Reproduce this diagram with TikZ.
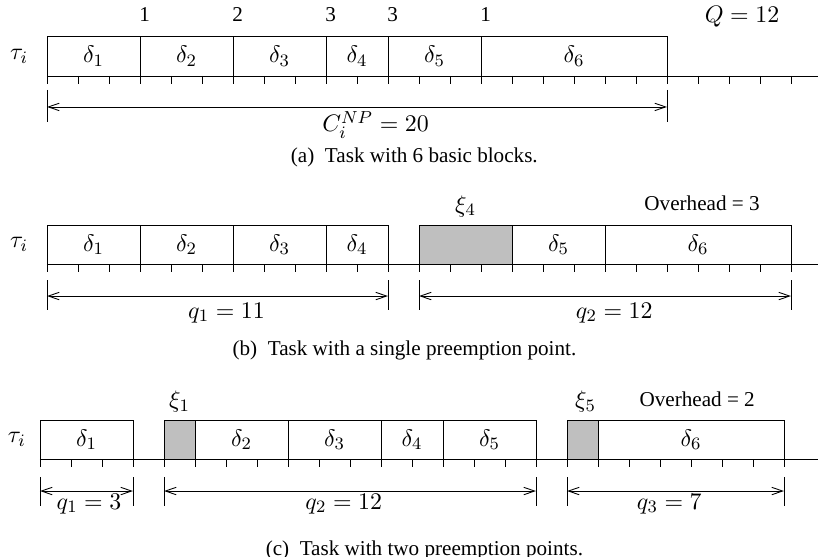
\documentclass[tikz,border=0pt]{standalone}
\usepackage{fontspec}
\setmainfont{Liberation Serif}
\usetikzlibrary{positioning,arrows.meta}

\begin{document}
\begin{tikzpicture}[x=0.5cm,y=0.5cm,font=\fontsize{11}{13}\selectfont,
	blk/.style={draw,minimum height=0.63cm,inner sep=0pt,outer sep=0pt,anchor=south west},
	bw/.style={minimum width=#1*0.5cm},
	ovh/.style={blk,fill=gray!50},
	tk/.style={thin},
	bar/.style={thin},
	dim/.style={thin,{Straight Barb[length=5pt,width=3.4pt]}-{Straight Barb[length=5pt,width=3.4pt]}},
	txt/.style={font=\fontsize{9.7}{11.6}\selectfont,inner sep=0.5pt},
	lb/.style={anchor=base,inner sep=0pt}]
	
	\useasboundingbox (-1.516,-17.968) rectangle (24.871,0);
	
	% Panel (a): six basic blocks
	\begin{scope}[shift={(0,-2.45)}]
		\node (ta) at (-0.9,0.63) {$\tau_i$};
		\node[blk,bw=3] (a1) at (0,0) {$\delta_1$};
		\node[blk,bw=3,right=0pt of a1] (a2) {$\delta_2$};
		\node[blk,bw=3,right=0pt of a2] (a3) {$\delta_3$};
		\node[blk,bw=2,right=0pt of a3] (a4) {$\delta_4$};
		\node[blk,bw=3,right=0pt of a4] (a5) {$\delta_5$};
		\node[blk,bw=6,right=0pt of a5] (a6) {$\delta_6$};
		\draw (0,0) -- (24.87,0);
		\foreach \x in {0,...,24} \draw[tk] (\x,0) -- (\x,-0.25);
		
		% overheads at block boundaries
		\node[txt,lb] (oa1) at (3.15,1.75) {1};
		\node[txt,lb] (oa2) at (6.15,1.75) {2};
		\node[txt,lb] (oa3) at (9.15,1.75) {3};
		\node[txt,lb] (oa4) at (11.15,1.75) {3};
		\node[txt,lb] (oa5) at (14.15,1.75) {1};
		\node[lb] (qa) at (22.42,1.74) {$Q=12$};
		
		% C_i^NP
		\coordinate (aL) at (0,-1);
		\coordinate (aR) at (20,-1);
		\draw[bar] (0,-0.45) -- (0,-1.48);
		\draw[bar] (20,-0.45) -- (20,-1.48);
		\draw[dim] (aL) -- (aR);
		\node[lb] (ca) at (10.6,-1.8) {$C_i^{NP}=20$};
		\node[txt] (capa) at (11.85,-2.62) {(a)~ Task with 6 basic blocks.};
	\end{scope}
	
	% Panel (b): one preemption point
	\begin{scope}[shift={(0,-8.52)}]
		\node (tb) at (-0.9,0.63) {$\tau_i$};
		\node[blk,bw=3] (b1) at (0,0) {$\delta_1$};
		\node[blk,bw=3,right=0pt of b1] (b2) {$\delta_2$};
		\node[blk,bw=3,right=0pt of b2] (b3) {$\delta_3$};
		\node[blk,bw=2,right=0pt of b3] (b4) {$\delta_4$};
		\node[ovh,bw=3] (e4) at (12,0) {};
		\node[blk,bw=3,right=0pt of e4] (b5) {$\delta_5$};
		\node[blk,bw=6,right=0pt of b5] (b6) {$\delta_6$};
		\draw (0,0) -- (24.87,0);
		\foreach \x in {0,...,11} \draw[tk] (\x,0) -- (\x,-0.25);
		\foreach \x in {12,...,24} \draw[tk] (\x,0) -- (\x,-0.25);
		
		\node[lb] (xb4) at (13.5,1.68) {$\xi_4$};
		\node[txt,lb] (ob) at (21.13,1.74) {Overhead = 3};
		
		% q_1, q_2
		\coordinate (b1L) at (0,-1.03);
		\coordinate (b1R) at (11,-1.03);
		\coordinate (b2L) at (12,-1.03);
		\coordinate (b2R) at (24,-1.03);
		\foreach \x in {0,11,12,24} \draw[bar] (\x,-0.52) -- (\x,-1.48);
		\draw[dim] (b1L) -- (b1R);
		\draw[dim] (b2L) -- (b2R);
		\node[lb] (qb1) at (5.79,-1.74) {$q_1=11$};
		\node[lb] (qb2) at (18.3,-1.74) {$q_2=12$};
		\node[txt] (capb) at (11.53,-2.77) {(b)~ Task with a single preemption point.};
	\end{scope}
	
	% Panel (c): two preemption points
	\begin{scope}[shift={(-0.226,-14.81)}]
		\node (tc) at (-0.75,0.63) {$\tau_i$};
		\node[blk,bw=3] (c1) at (0,0) {$\delta_1$};
		\node[ovh,bw=1] (e1) at (4,0) {};
		\node[blk,bw=3,right=0pt of e1] (c2) {$\delta_2$};
		\node[blk,bw=3,right=0pt of c2] (c3) {$\delta_3$};
		\node[blk,bw=2,right=0pt of c3] (c4) {$\delta_4$};
		\node[blk,bw=3,right=0pt of c4] (c5) {$\delta_5$};
		\node[ovh,bw=1] (e5) at (17,0) {};
		\node[blk,bw=6,right=0pt of e5] (c6) {$\delta_6$};
		\draw (0,0) -- (25.1,0);
		\foreach \x in {0,...,3} \draw[tk] (\x,0) -- (\x,-0.25);
		\foreach \x in {4,...,16} \draw[tk] (\x,0) -- (\x,-0.25);
		\foreach \x in {17,...,24} \draw[tk] (\x,0) -- (\x,-0.25);
		
		\node[lb] (xc1) at (4.5,1.65) {$\xi_1$};
		\node[lb] (xc5) at (17.6,1.65) {$\xi_5$};
		\node[txt,lb] (oc) at (21.2,1.71) {Overhead = 2};
		
		% q_1, q_2, q_3
		\coordinate (c1L) at (0,-1.03);
		\coordinate (c1R) at (3,-1.03);
		\coordinate (c2L) at (4,-1.03);
		\coordinate (c2R) at (16,-1.03);
		\coordinate (c3L) at (17,-1.03);
		\coordinate (c3R) at (24,-1.03);
		\foreach \x in {0,3,4,16,17,24} \draw[bar] (\x,-0.58) -- (\x,-1.52);
		\draw[dim] (c1L) -- (c1R);
		\draw[dim] (c2L) -- (c2R);
		\draw[dim] (c3L) -- (c3R);
		\node[lb] (qc1) at (1.58,-1.62) {$q_1=3$};
		\node[lb] (qc2) at (9.8,-1.62) {$q_2=12$};
		\node[lb] (qc3) at (20.3,-1.62) {$q_3=7$};
		\node[txt] (capc) at (12.4,-2.95) {(c)~ Task with two preemption points.};
	\end{scope}
	
\end{tikzpicture}
\end{document}
